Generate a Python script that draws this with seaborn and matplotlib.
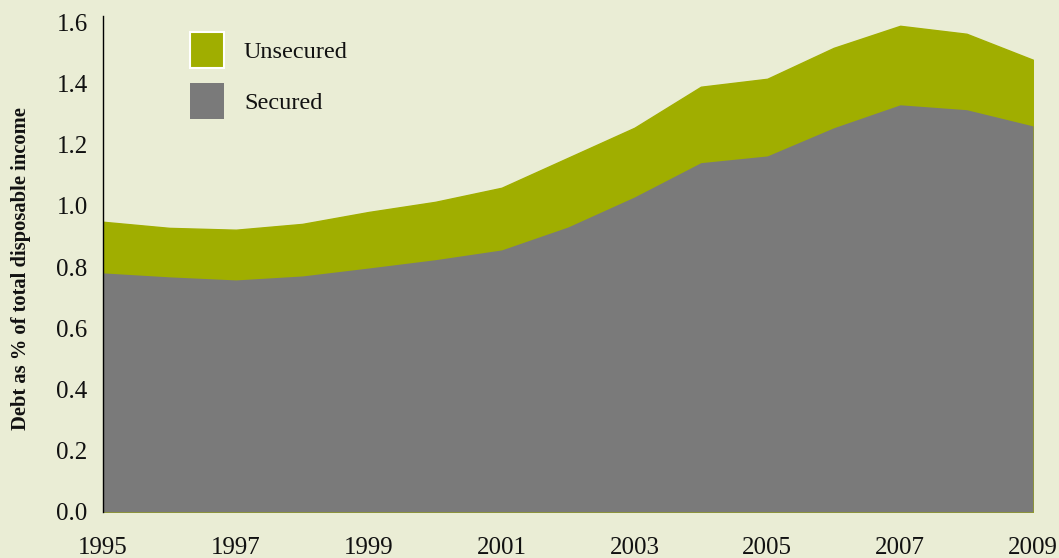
import matplotlib
matplotlib.use('Agg')
import matplotlib.pyplot as plt
import matplotlib.patches as mpatches
import seaborn as sns

# Data
years = [1995, 1996, 1997, 1998, 1999, 2000, 2001, 2002, 2003, 2004, 2005, 2006, 2007, 2008, 2009]
secured = [0.781, 0.768, 0.758, 0.771, 0.797, 0.824, 0.856, 0.931, 1.029, 1.141, 1.163, 1.255, 1.330, 1.314, 1.261]
total = [0.948, 0.928, 0.922, 0.941, 0.980, 1.013, 1.059, 1.157, 1.255, 1.389, 1.415, 1.516, 1.588, 1.562, 1.477]
year_ticks = [1995, 1997, 1999, 2001, 2003, 2005, 2007, 2009]
y_ticks = [0.0, 0.2, 0.4, 0.6, 0.8, 1.0, 1.2, 1.4, 1.6]
series_names = ['Unsecured', 'Secured']

bg = '#eaedd5'
col_unsec = '#a0ae00'
col_sec = '#7a7a7a'
txt = '#111111'

sns.set_style('white')
plt.rcParams['font.family'] = ['Liberation Serif', 'DejaVu Serif']
plt.rcParams['text.color'] = txt

fig = plt.figure(figsize=(10.59, 5.58), dpi=100, facecolor=bg)
ax = fig.add_axes([103 / 1059, 46 / 558, 930 / 1059, 496 / 558])
ax.set_facecolor(bg)

# unsecured drawn as full area under the total, secured on top of it
ax.fill_between(years, 0, total, color=col_unsec, edgecolor=col_unsec, linewidth=1.0)
ax.fill_between(years, 0, secured, color=col_sec, linewidth=0)

ax.set_xlim(1995, 2009)
ax.set_ylim(0, 1.62)
ax.set_xticks(year_ticks)
ax.set_xticklabels([str(y) for y in year_ticks])
ax.set_yticks(y_ticks)
ax.set_yticklabels(['%.1f' % v for v in y_ticks])
ax.tick_params(axis='both', length=0, labelsize=18, colors=txt)
ax.tick_params(axis='y', pad=11)
ax.tick_params(axis='x', pad=18)

for s in ['top', 'right', 'bottom']:
    ax.spines[s].set_visible(False)
ax.spines['left'].set_color('black')
ax.spines['left'].set_linewidth(1.0)

ax.set_ylabel('Debt as % of total disposable income', fontsize=14.8, fontweight='bold', color=txt)
ax.yaxis.set_label_coords(-0.077, 0.49)

handles = [mpatches.Patch(facecolor=col_unsec, edgecolor='white', linewidth=1.5),
           mpatches.Patch(facecolor=col_sec, edgecolor='none')]
leg = ax.legend(handles, series_names, loc='upper left', bbox_to_anchor=(0.0935, 0.968),
                frameon=False, fontsize=17.5, handlelength=1.42, handleheight=1.9,
                labelspacing=0.62, handletextpad=0.8, borderpad=0, borderaxespad=0)
for t in leg.get_texts():
    t.set_color(txt)

fig.savefig('out.png', dpi=100, facecolor=bg)
